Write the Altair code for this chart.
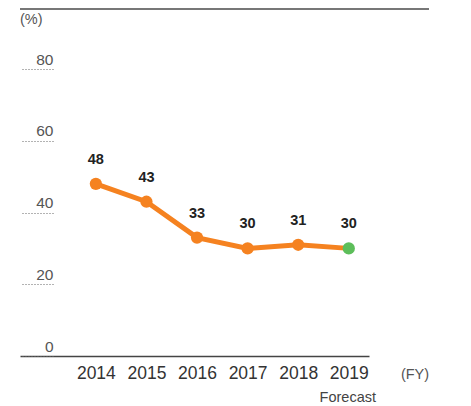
import altair as alt
import pandas as pd

years = [2014, 2015, 2016, 2017, 2018, 2019]
values = [48, 43, 33, 30, 31, 30]
status = ["Actual", "Actual", "Actual", "Actual", "Actual", "Forecast"]
y_ticks = [0, 20, 40, 60, 80]

df = pd.DataFrame({"year": years, "value": values, "status": status})

ORANGE = "#F58220"
GREEN = "#5DBE5A"
FONT = "Liberation Sans"

x_enc = alt.X(
    "year:Q",
    scale=alt.Scale(domain=[2012.5, 2019.4], nice=False, zero=False),
    axis=alt.Axis(
        values=years, format="d", ticks=False, grid=False, title=None,
        domainColor="#444", domainWidth=1.5,
        labelFontSize=17.5, labelColor="#333", labelPadding=8, labelFlush=False,
    ),
)
y_enc = alt.Y(
    "value:Q",
    scale=alt.Scale(domain=[0, 80], nice=False),
    axis=alt.Axis(
        values=y_ticks, domain=False, grid=False, title=None, offset=-33,
        ticks=True, tickDash=[1, 2], tickColor="#666", tickSize=31, tickWidth=1,
        labelPadding=-31, labelAlign="right", labelBaseline="alphabetic",
        labelOffset=-5, labelFlush=False, labelFontSize=15.5, labelColor="#555",
    ),
)

base = alt.Chart(df)

line = base.mark_line(color=ORANGE, strokeWidth=5).encode(x=x_enc, y=y_enc)

points = base.mark_circle(size=150, opacity=1).encode(
    x="year:Q",
    y="value:Q",
    color=alt.Color(
        "status:N",
        scale=alt.Scale(domain=["Actual", "Forecast"], range=[ORANGE, GREEN]),
        legend=None,
    ),
)

labels = base.mark_text(
    dy=-24, fontSize=14.5, fontWeight="bold", color="#222", font=FONT
).encode(x="year:Q", y="value:Q", text="value:Q")

forecast = alt.Chart(pd.DataFrame({"year": [2019], "t": ["Forecast"]})).mark_text(
    fontSize=14.5, color="#444", font=FONT, dx=-1, baseline="middle"
).encode(x="year:Q", y=alt.value(329), text="t:N")

fy = alt.Chart(pd.DataFrame({"t": ["(FY)"]})).mark_text(
    fontSize=14.5, color="#555", font=FONT, align="center", baseline="middle"
).encode(x=alt.value(395), y=alt.value(306), text="t:N")

pct = alt.Chart(pd.DataFrame({"t": ["(%)"]})).mark_text(
    fontSize=14.5, color="#555", font=FONT, align="left", baseline="middle"
).encode(x=alt.value(0), y=alt.value(-49), text="t:N")

top_rule = alt.Chart(pd.DataFrame({"t": [0]})).mark_rule(
    color="#777", strokeWidth=2
).encode(x=alt.value(0), x2=alt.value(409), y=alt.value(-60))

chart = (
    alt.layer(top_rule, line, points, labels, forecast, fy, pct)
    .properties(width=349, height=287, padding={"left": 11, "top": 0, "right": 5, "bottom": 5})
    .configure(font=FONT)
    .configure_view(strokeWidth=0)
)

chart.save("out.html", embed_options={"renderer": "svg", "actions": False})
